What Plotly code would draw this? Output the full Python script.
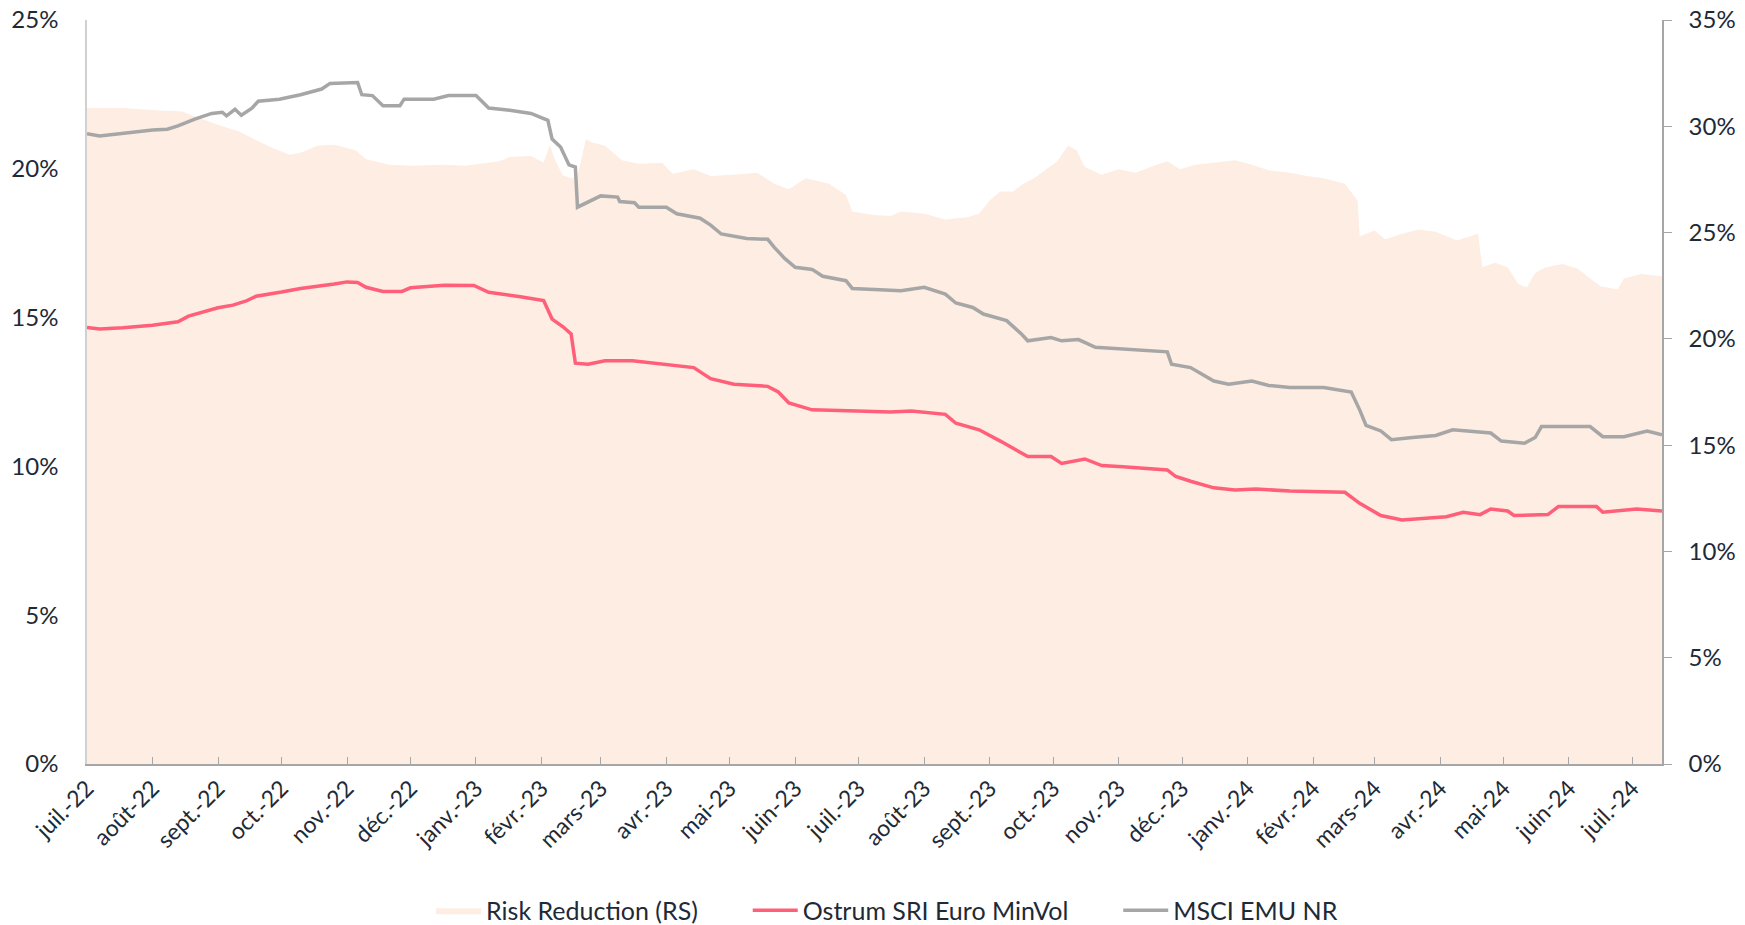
import plotly.graph_objects as go

# ---------------- data ----------------
minvol_dates = ["2022-07-01","2022-07-07","2022-07-18","2022-08-01","2022-08-13","2022-08-18","2022-09-01","2022-09-08","2022-09-14","2022-09-19",
"2022-10-01","2022-10-10","2022-10-26","2022-11-01","2022-11-06","2022-11-10","2022-11-18","2022-11-27","2022-12-01","2022-12-17",
"2022-12-31","2023-01-07","2023-01-22","2023-02-02","2023-02-06","2023-02-11","2023-02-15","2023-02-17","2023-02-23","2023-03-03",
"2023-03-16","2023-04-01","2023-04-14","2023-04-22","2023-05-03","2023-05-19","2023-05-24","2023-05-29","2023-06-09","2023-06-30",
"2023-07-16","2023-07-26","2023-08-11","2023-08-16","2023-08-27","2023-09-06","2023-09-14","2023-09-19","2023-09-30","2023-10-05",
"2023-10-16","2023-10-24","2023-11-03","2023-11-24","2023-11-28","2023-12-05","2023-12-16","2023-12-26","2024-01-05","2024-01-21",
"2024-02-16","2024-02-23","2024-03-04","2024-03-14","2024-04-04","2024-04-12","2024-04-20","2024-04-25","2024-05-03","2024-05-06",
"2024-05-22","2024-05-27","2024-06-14","2024-06-17","2024-07-03","2024-07-15"]
minvol_vals = [14.67,14.62,14.66,14.74,14.86,15.05,15.33,15.42,15.55,15.72,
15.86,15.98,16.13,16.20,16.18,16.02,15.88,15.88,16.00,16.09,
16.08,15.85,15.70,15.57,14.95,14.70,14.45,13.47,13.43,13.55,
13.55,13.43,13.32,12.95,12.76,12.69,12.50,12.13,11.90,11.86,
11.83,11.86,11.75,11.45,11.23,10.85,10.55,10.33,10.33,10.10,
10.25,10.03,9.99,9.88,9.66,9.50,9.28,9.21,9.24,9.17,
9.13,8.76,8.35,8.20,8.31,8.46,8.38,8.57,8.50,8.35,
8.38,8.65,8.65,8.46,8.57,8.50]

msci_dates = ["2022-07-01","2022-07-07","2022-08-01","2022-08-08","2022-08-13","2022-08-21","2022-08-29","2022-09-03","2022-09-05","2022-09-09",
"2022-09-12","2022-09-17","2022-09-20","2022-09-30","2022-10-10","2022-10-20","2022-10-24","2022-11-06","2022-11-08","2022-11-13",
"2022-11-18","2022-11-26","2022-11-28","2022-12-12","2022-12-19","2023-01-01","2023-01-07","2023-01-17","2023-01-27","2023-02-04",
"2023-02-06","2023-02-10","2023-02-14","2023-02-17","2023-02-18","2023-02-22","2023-03-01","2023-03-09","2023-03-10","2023-03-17",
"2023-03-19","2023-04-01","2023-04-06","2023-04-17","2023-04-22","2023-04-27","2023-05-09","2023-05-19","2023-05-22","2023-05-27",
"2023-06-01","2023-06-09","2023-06-14","2023-06-25","2023-06-28","2023-07-11","2023-07-21","2023-08-01","2023-08-11","2023-08-16",
"2023-08-24","2023-08-29","2023-09-09","2023-09-16","2023-09-19","2023-09-30","2023-10-05","2023-10-13","2023-10-21","2023-11-24",
"2023-11-26","2023-12-05","2023-12-16","2023-12-23","2024-01-03","2024-01-11","2024-01-21","2024-02-06","2024-02-19","2024-02-23",
"2024-02-26","2024-03-04","2024-03-09","2024-03-19","2024-03-30","2024-04-07","2024-04-20","2024-04-25","2024-04-30","2024-05-11",
"2024-05-16","2024-05-19","2024-06-11","2024-06-17","2024-06-27","2024-07-08","2024-07-15"]
msci_vals = [21.18,21.10,21.30,21.33,21.44,21.67,21.86,21.90,21.78,22.00,
21.80,22.04,22.27,22.34,22.49,22.68,22.87,22.90,22.49,22.46,
22.12,22.12,22.34,22.34,22.46,22.46,22.04,21.97,21.86,21.63,
21.00,20.73,20.13,20.06,18.71,18.86,19.09,19.05,18.90,18.86,
18.71,18.71,18.49,18.34,18.11,17.81,17.66,17.63,17.37,16.99,
16.69,16.62,16.39,16.24,15.98,15.94,15.90,16.02,15.79,15.49,
15.34,15.12,14.90,14.45,14.22,14.33,14.22,14.26,14.00,13.85,
13.43,13.32,12.87,12.76,12.87,12.72,12.65,12.65,12.50,11.90,
11.38,11.19,10.90,10.97,11.04,11.23,11.15,11.12,10.85,10.78,
10.97,11.34,11.34,11.00,11.00,11.19,11.06]

rr_dates = ["2022-07-01","2022-07-18","2022-08-02","2022-08-15","2022-08-23","2022-09-03","2022-09-11","2022-09-19","2022-09-27","2022-10-05",
"2022-10-10","2022-10-18","2022-10-26","2022-11-05","2022-11-10","2022-11-21","2022-12-01","2022-12-17","2022-12-27","2023-01-07",
"2023-01-12","2023-01-17","2023-01-27","2023-02-02","2023-02-05","2023-02-07","2023-02-11","2023-02-15","2023-02-18","2023-02-22",
"2023-02-25","2023-03-03","2023-03-06","2023-03-11","2023-03-19","2023-03-30","2023-04-04","2023-04-14","2023-04-22","2023-05-03",
"2023-05-14","2023-05-22","2023-05-29","2023-06-06","2023-06-17","2023-06-25","2023-06-28","2023-07-08","2023-07-16","2023-07-21",
"2023-08-01","2023-08-11","2023-08-22","2023-08-27","2023-09-01","2023-09-06","2023-09-12","2023-09-17","2023-09-22","2023-09-27",
"2023-10-03","2023-10-08","2023-10-12","2023-10-16","2023-10-24","2023-11-01","2023-11-09","2023-11-19","2023-11-24","2023-11-30",
"2023-12-07","2023-12-16","2023-12-26","2024-01-03","2024-01-11","2024-01-21","2024-01-29","2024-02-06","2024-02-16","2024-02-22",
"2024-02-23","2024-03-01","2024-03-06","2024-03-14","2024-03-22","2024-03-30","2024-04-04","2024-04-09","2024-04-19","2024-04-21",
"2024-04-27","2024-05-03","2024-05-08","2024-05-12","2024-05-16","2024-05-21","2024-05-29","2024-06-05","2024-06-11","2024-06-16",
"2024-06-24","2024-06-27","2024-07-05","2024-07-15"]
rr_vals = [30.86,30.86,30.76,30.70,30.39,30.00,29.76,29.34,28.97,28.66,
28.76,29.08,29.13,28.87,28.45,28.19,28.14,28.19,28.14,28.29,
28.35,28.55,28.60,28.29,29.13,28.50,27.70,27.56,27.66,29.39,
29.24,29.08,28.82,28.40,28.24,28.29,27.77,27.98,27.66,27.72,
27.82,27.30,27.04,27.56,27.30,26.77,25.99,25.83,25.78,25.99,
25.88,25.62,25.73,25.88,26.51,26.93,26.93,27.30,27.56,27.93,
28.35,29.08,28.87,28.08,27.72,27.98,27.82,28.19,28.35,27.98,
28.19,28.29,28.40,28.19,27.93,27.82,27.66,27.56,27.30,26.51,
24.83,25.10,24.68,24.94,25.15,25.04,24.83,24.63,24.94,23.37,
23.58,23.37,22.58,22.42,23.10,23.37,23.52,23.31,22.84,22.48,
22.32,22.84,23.05,22.95]

month_ticks = ["2022-07-01","2022-08-01","2022-09-01","2022-10-01","2022-11-01","2022-12-01",
"2023-01-01","2023-02-01","2023-03-01","2023-04-01","2023-05-01","2023-06-01","2023-07-01",
"2023-08-01","2023-09-01","2023-10-01","2023-11-01","2023-12-01","2024-01-01","2024-02-01",
"2024-03-01","2024-04-01","2024-05-01","2024-06-01","2024-07-01"]
month_labels = ["juil.-22","août-22","sept.-22","oct.-22","nov.-22","déc.-22",
"janv.-23","févr.-23","mars-23","avr.-23","mai-23","juin-23","juil.-23",
"août-23","sept.-23","oct.-23","nov.-23","déc.-23","janv.-24","févr.-24",
"mars-24","avr.-24","mai-24","juin-24","juil.-24"]

left_ticks = [0, 5, 10, 15, 20, 25]
right_ticks = [0, 5, 10, 15, 20, 25, 30, 35]

series_names = ["Risk Reduction (RS)", "Ostrum SRI Euro MinVol", "MSCI EMU NR"]

# ---------------- styling ----------------
FONT = "Lato"
TXT = "#1E2A36"
FILL = "#FDEDE3"
RED = "#FF5F78"
GREY = "#A6A6A6"
PAD = "\u00a0" * 7  # spacing between legend entries

fig = go.Figure()
fig.add_trace(go.Scatter(
    x=rr_dates, y=rr_vals, name=series_names[0] + PAD, mode="lines",
    fill="tozeroy", fillcolor=FILL, line=dict(width=0, color=FILL),
    yaxis="y"))
fig.add_trace(go.Scatter(
    x=minvol_dates, y=minvol_vals, name=series_names[1] + PAD, mode="lines",
    line=dict(color=RED, width=3.5), yaxis="y2"))
fig.add_trace(go.Scatter(
    x=msci_dates, y=msci_vals, name=series_names[2], mode="lines",
    line=dict(color=GREY, width=3.5), yaxis="y2"))

fig.update_layout(
    width=1745, height=925,
    margin=dict(l=87, r=83, t=20, b=161, autoexpand=False),
    paper_bgcolor="white", plot_bgcolor="white",
    font=dict(family=FONT, size=22, color=TXT),
    showlegend=True,
    legend=dict(orientation="h", x=0.508, xanchor="center", y=-0.197, yanchor="middle",
                font=dict(family=FONT, size=25, color=TXT), itemwidth=45,
                traceorder="normal", bgcolor="rgba(0,0,0,0)"),
    xaxis=dict(
        type="date", range=["2022-07-01", "2024-07-15"], automargin=False,
        tickmode="array", tickvals=month_ticks, ticktext=month_labels,
        tickangle=-45, ticks="inside", ticklen=7, tickcolor="#A6A6A6", tickwidth=1,
        showline=True, linecolor="#A6A6A6", linewidth=1.5,
        showgrid=False, zeroline=False,
        tickfont=dict(family=FONT, size=23, color=TXT),
    ),
    yaxis=dict(
        side="right", range=[0, 35], tickmode="array", tickvals=right_ticks,
        ticktext=[f"{v}%" for v in right_ticks], automargin=False,
        ticks="outside", ticklen=8, tickcolor="#A6A6A6",
        showline=True, linecolor="#A6A6A6", linewidth=1.5,
        showgrid=False, zeroline=False, ticklabelstandoff=12,
        tickfont=dict(family=FONT, size=24, color=TXT),
    ),
    yaxis2=dict(
        side="left", overlaying="y", range=[0, 25], tickmode="array", tickvals=left_ticks,
        ticktext=[f"{v}%" for v in left_ticks], automargin=False,
        ticks="", showline=True, linecolor="#D0D0D0", linewidth=1.5,
        showgrid=False, zeroline=False, ticklabelstandoff=22,
        tickfont=dict(family=FONT, size=24, color=TXT),
    ),
)

# remove the default page margin so the 1745x925 figure fills the window exactly
fig.write_html("out.html", config={"displayModeBar": False},
               post_script="document.body.style.margin='0px';")
